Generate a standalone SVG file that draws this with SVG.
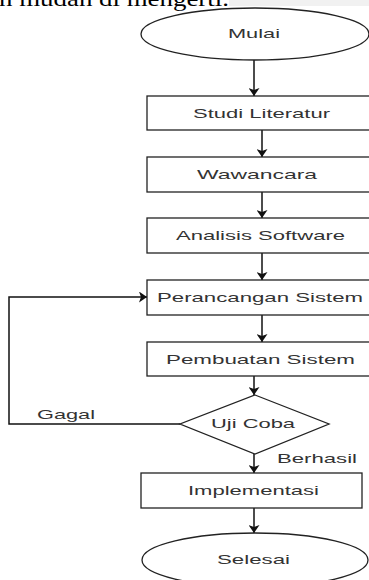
<svg xmlns="http://www.w3.org/2000/svg" width="369" height="580" viewBox="0 0 369 580">
<defs>
<style>
.shape{fill:#fff;stroke:#222;stroke-width:1.3}
.lbl{font-family:"Liberation Sans",Arial,sans-serif;font-size:13px;fill:#333;text-anchor:start}
.edge{fill:none;stroke:#111;stroke-width:1.5}
</style>
<marker id="arr" viewBox="0 0 8 11" refX="8" refY="5.5" markerWidth="8" markerHeight="11" markerUnits="userSpaceOnUse" orient="auto">
<path d="M0,0 L8,5.5 L0,11 L2,5.5 z" fill="#111"/>
</marker>
</defs>
<rect x="0" y="0" width="369" height="580" fill="#fff"/>
<rect x="229" y="0" width="140" height="6" fill="#f1f1f1"/>
<text x="-1" y="6" font-family="'Liberation Serif','Times New Roman',serif" font-size="21" fill="#000" textLength="230" lengthAdjust="spacingAndGlyphs">n mudah di mengerti.</text>

<g id="connectors">
<line class="edge" x1="254" y1="60" x2="254" y2="96" marker-end="url(#arr)"/>
<line class="edge" x1="262" y1="130" x2="262" y2="157" marker-end="url(#arr)"/>
<line class="edge" x1="262" y1="192" x2="262" y2="218" marker-end="url(#arr)"/>
<line class="edge" x1="262" y1="253" x2="262" y2="280" marker-end="url(#arr)"/>
<line class="edge" x1="262" y1="315" x2="262" y2="342" marker-end="url(#arr)"/>
<line class="edge" x1="254" y1="376" x2="254" y2="395" marker-end="url(#arr)"/>
<line class="edge" x1="254" y1="454" x2="254" y2="473" marker-end="url(#arr)"/>
<line class="edge" x1="254" y1="508" x2="254" y2="533" marker-end="url(#arr)"/>
<polyline class="edge" points="180,424 9,424 9,297 147,297" marker-end="url(#arr)"/>
<text class="lbl" x="37" y="418.5" textLength="58" lengthAdjust="spacingAndGlyphs">Gagal</text>
<text class="lbl" x="277" y="462.5" textLength="80" lengthAdjust="spacingAndGlyphs">Berhasil</text>
</g>

<g id="mulai">
<ellipse class="shape" cx="255" cy="34" rx="114" ry="26" stroke-width="1"/>
<text class="lbl" x="228" y="37.5" textLength="52" lengthAdjust="spacingAndGlyphs">Mulai</text>
</g>
<g id="studi">
<rect class="shape" x="147" y="96" width="228" height="34"/>
<text class="lbl" x="193" y="117.5" textLength="137" lengthAdjust="spacingAndGlyphs">Studi Literatur</text>
</g>
<g id="wawancara">
<rect class="shape" x="147" y="157" width="228" height="35"/>
<text class="lbl" x="197" y="178.5" textLength="120" lengthAdjust="spacingAndGlyphs">Wawancara</text>
</g>
<g id="analisis">
<rect class="shape" x="147" y="218" width="228" height="35"/>
<text class="lbl" x="176" y="240" textLength="169" lengthAdjust="spacingAndGlyphs">Analisis Software</text>
</g>
<g id="perancangan">
<rect class="shape" x="147" y="280" width="228" height="35"/>
<text class="lbl" x="157" y="302" textLength="206" lengthAdjust="spacingAndGlyphs">Perancangan Sistem</text>
</g>
<g id="pembuatan">
<rect class="shape" x="147" y="342" width="228" height="34"/>
<text class="lbl" x="166" y="363.5" textLength="189" lengthAdjust="spacingAndGlyphs">Pembuatan Sistem</text>
</g>
<g id="ujicoba">
<polygon class="shape" points="255,395 329,424 255,454 180,424"/>
<text class="lbl" x="211" y="427.5" textLength="84" lengthAdjust="spacingAndGlyphs">Uji Coba</text>
</g>
<g id="implementasi">
<rect class="shape" x="141" y="473" width="221" height="35"/>
<text class="lbl" x="188" y="495" textLength="131" lengthAdjust="spacingAndGlyphs">Implementasi</text>
</g>
<g id="selesai">
<ellipse class="shape" cx="255" cy="560" rx="113" ry="27" stroke-width="1"/>
<text class="lbl" x="217" y="564" textLength="73" lengthAdjust="spacingAndGlyphs">Selesai</text>
</g>
</svg>
